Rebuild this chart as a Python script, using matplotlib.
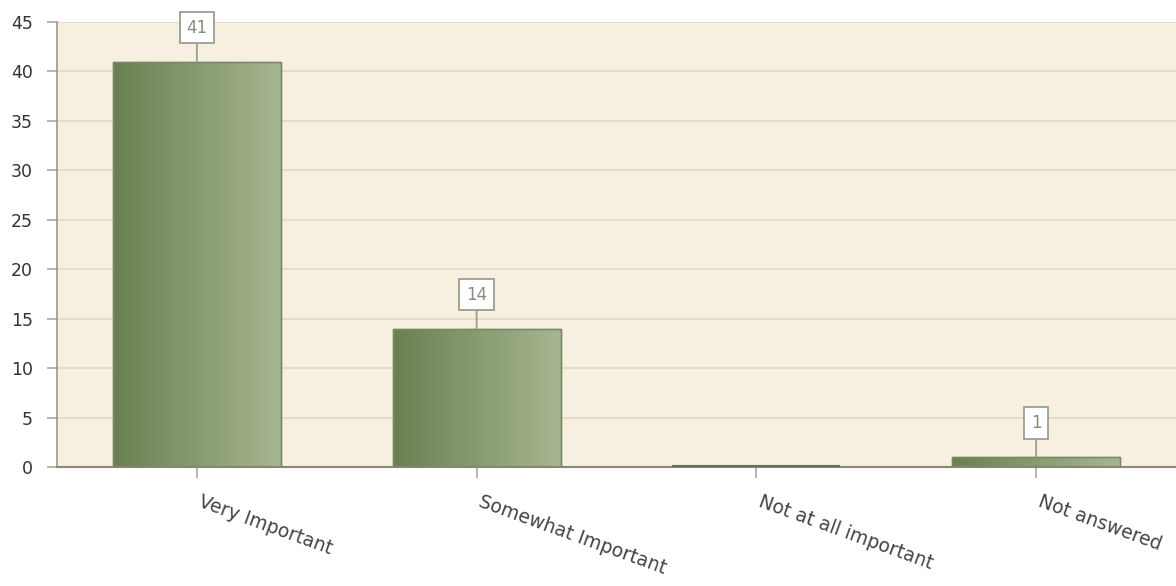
import matplotlib
matplotlib.use("Agg")
import matplotlib.pyplot as plt
import matplotlib.transforms as mtransforms
import numpy as np
from matplotlib.colors import LinearSegmentedColormap

categories = ["Very Important", "Somewhat Important", "Not at all important", "Not answered"]
values = [41, 14, 0, 1]
yticks = [0, 5, 10, 15, 20, 25, 30, 35, 40, 45]

plt.rcParams['font.family'] = ['DejaVu Sans']

fig = plt.figure(figsize=(11.76, 5.86), dpi=100)
ax = fig.add_axes([57/1176, 1 - 467/586, (1176-57)/1176, (467-22)/586])
ax.set_facecolor("#f7efe0")
x = np.arange(len(categories))

ax.set_yticks(yticks)
ax.yaxis.grid(True, color="#e3d9c4", linewidth=1.2)
ax.set_axisbelow(True)

cmap = LinearSegmentedColormap.from_list("g", ["#6a8050", "#a6b691"])
grad = np.linspace(0, 1, 256).reshape(1, -1)
bars = ax.bar(x, values, width=0.6, color="none", edgecolor="#7a8a66", linewidth=1.0, zorder=3)
for b, v in zip(bars, values):
    bx, by, bw, bh = b.get_x(), b.get_y(), b.get_width(), b.get_height()
    if bh <= 0:
        ax.plot([bx, bx + bw], [0.08, 0.08], color="#66705a", lw=1.5, zorder=4, solid_capstyle="butt")
        continue
    im = ax.imshow(grad, cmap=cmap, aspect="auto", extent=(bx, bx + bw, by, by + bh), zorder=2.5)
    im.set_clip_path(b)
    ax.add_patch(plt.Rectangle((bx, by), bw, bh, fill=False, edgecolor="#7a8a66", lw=1.0, zorder=3))
ax.set_xlim(-0.5, len(categories) - 0.5)
ax.set_ylim(0, 45)

for xi, v in zip(x, values):
    if v <= 0:
        continue
    ax.annotate(str(v), xy=(xi, v), xytext=(0, 34), textcoords="offset pixels",
                ha="center", va="center", fontsize=12, color="#8a8a80",
                bbox=dict(boxstyle="square,pad=0.4", fc="white", ec="#9a9f8c", lw=1.3),
                arrowprops=dict(arrowstyle="-", color="#9a9f8c", lw=1.3, shrinkA=0, shrinkB=0),
                annotation_clip=False, zorder=5)

ax.set_xticks(x)
ax.set_xticklabels(categories, rotation=-20, ha="left", rotation_mode="anchor",
                   fontsize=13.5, color="#444444")
ax.tick_params(axis="x", length=8, color="#a8a8a8", width=1.2, pad=10)
ax.tick_params(axis="y", length=7.2, color="#a8a8a8", width=1.2, labelsize=12.5, labelcolor="#333333", pad=10)
offset = mtransforms.ScaledTranslation(6/100, 0, fig.dpi_scale_trans)
for lbl in ax.get_xticklabels():
    lbl.set_transform(lbl.get_transform() + offset)

for s in ["top", "right"]:
    ax.spines[s].set_visible(False)
ax.spines["left"].set_color("#a09a8c")
ax.spines["bottom"].set_color("#8c8678")
ax.spines["left"].set_linewidth(1.2)
ax.spines["bottom"].set_linewidth(1.5)

fig.savefig("out.png", dpi=100)
